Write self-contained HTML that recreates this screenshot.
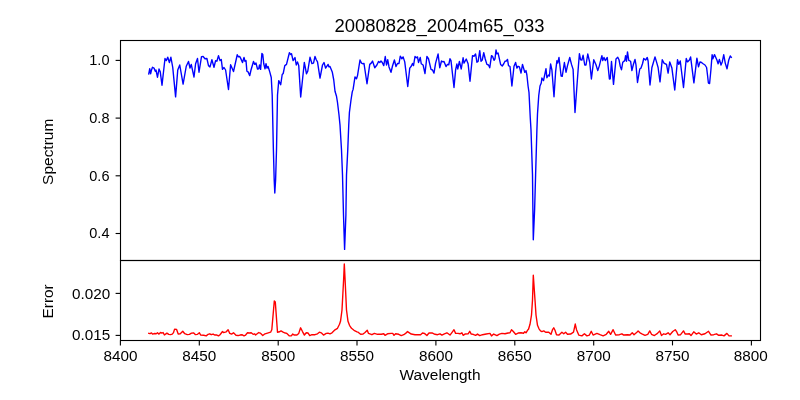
<!DOCTYPE html>
<html><head><meta charset="utf-8"><title>20080828_2004m65_033</title>
<style>html,body{margin:0;padding:0;background:#fff;overflow:hidden}svg{display:block;will-change:transform}</style>
</head><body>
<svg width="800" height="400" viewBox="0 0 800 400">
<rect width="800" height="400" fill="#fff"/>
<path d="M148.75,74.00 L149.75,68.75 L150.60,73.75 L151.50,70.00 L152.50,67.25 L154.00,68.10 L155.25,71.25 L156.00,70.00 L157.50,77.25 L159.00,69.00 L160.25,71.90 L162.00,85.20 L165.00,58.50 L166.25,60.60 L167.75,57.25 L169.40,62.50 L170.90,57.25 L172.75,67.50 L175.60,96.90 L177.75,70.00 L179.75,65.00 L183.10,84.10 L186.25,66.25 L188.50,61.50 L190.00,68.00 L191.25,64.40 L194.00,77.00 L195.60,63.75 L197.50,58.50 L199.00,72.25 L201.50,56.60 L203.10,56.50 L205.00,58.75 L206.90,58.50 L208.50,65.60 L210.00,66.90 L211.90,59.75 L214.00,67.25 L215.60,60.60 L216.90,61.25 L218.50,55.60 L220.00,60.60 L221.25,59.40 L222.50,69.40 L224.00,67.50 L225.60,70.00 L228.50,89.50 L230.60,64.75 L233.50,71.50 L237.25,54.75 L238.50,56.90 L239.75,56.50 L240.60,58.10 L242.50,62.50 L244.00,57.50 L245.00,61.25 L246.00,60.60 L246.90,71.25 L248.10,71.90 L249.75,75.60 L251.00,70.00 L253.50,61.50 L254.75,64.40 L256.00,63.10 L257.50,69.00 L258.75,68.75 L259.50,65.00 L260.60,69.40 L261.90,53.50 L262.75,54.40 L263.75,63.75 L265.00,68.75 L266.00,63.75 L267.00,68.10 L268.10,66.50 L269.75,71.90 L271.25,77.50 L272.20,95.00 L273.40,150.00 L274.20,180.00 L274.80,193.00 L275.60,180.00 L276.50,150.00 L277.50,95.00 L278.75,80.60 L280.70,84.75 L282.20,74.50 L283.20,73.50 L284.80,65.60 L286.50,64.40 L289.40,52.75 L290.60,54.40 L291.50,53.75 L293.10,60.60 L295.00,57.50 L296.25,65.00 L297.50,61.90 L298.75,65.60 L300.70,97.00 L304.30,62.50 L306.50,73.75 L307.75,71.25 L310.00,57.25 L311.90,63.50 L313.50,63.10 L315.00,56.50 L316.25,59.75 L317.50,61.90 L320.00,78.10 L322.50,65.00 L324.00,62.50 L325.60,68.10 L328.10,64.40 L329.00,66.90 L330.00,66.50 L332.25,71.90 L333.75,80.00 L335.00,91.25 L336.50,96.25 L337.50,102.50 L339.00,115.00 L340.00,125.00 L341.50,150.00 L342.50,175.00 L343.50,215.00 L344.60,249.40 L345.90,215.00 L346.50,175.00 L347.75,150.00 L348.75,125.00 L349.40,112.50 L351.00,100.00 L352.25,91.90 L353.10,89.40 L355.00,76.90 L356.50,78.75 L357.50,75.60 L360.00,60.00 L361.50,63.10 L362.75,63.75 L364.00,63.50 L367.00,83.70 L369.75,64.40 L371.25,63.10 L372.50,61.00 L374.75,67.75 L376.90,65.00 L378.50,61.50 L379.75,62.50 L381.00,61.00 L382.25,62.50 L383.75,65.60 L385.25,56.50 L386.50,65.00 L387.75,59.75 L389.00,66.90 L391.00,72.25 L392.50,66.00 L394.40,60.00 L396.00,66.50 L397.50,63.50 L399.00,63.50 L400.25,56.25 L401.90,58.75 L403.10,56.90 L404.75,61.90 L407.75,86.50 L409.75,68.10 L411.25,66.25 L412.50,63.50 L413.50,65.60 L415.00,56.50 L416.25,57.75 L417.50,56.90 L418.50,62.50 L420.25,57.50 L421.25,63.75 L423.10,65.00 L425.00,73.50 L426.90,56.50 L428.50,58.75 L431.00,69.40 L432.50,70.00 L434.00,73.10 L435.60,63.10 L438.10,54.00 L439.75,67.75 L441.50,61.00 L443.10,61.90 L444.00,61.50 L446.00,66.50 L447.50,64.40 L448.75,64.75 L450.00,58.75 L451.00,60.60 L454.00,87.50 L455.60,70.00 L456.90,64.00 L457.75,69.00 L459.40,61.50 L461.25,69.00 L463.10,57.75 L464.00,63.10 L466.25,59.00 L468.10,63.75 L470.00,81.30 L472.50,55.60 L474.00,56.25 L475.60,54.00 L476.90,62.25 L478.10,61.50 L479.75,50.60 L481.00,61.25 L482.25,60.00 L483.75,52.75 L485.25,59.00 L486.90,64.40 L488.50,65.00 L489.75,67.75 L491.50,55.60 L492.50,56.25 L494.00,60.25 L495.00,58.75 L496.00,50.00 L496.90,53.75 L498.10,53.10 L500.60,64.40 L502.25,66.00 L503.75,63.75 L505.00,61.25 L506.25,61.00 L507.50,59.40 L508.50,65.60 L510.00,66.50 L511.90,86.00 L514.00,66.25 L515.60,62.50 L516.90,68.10 L518.10,66.25 L519.40,66.90 L521.00,73.10 L522.50,64.40 L524.75,72.25 L526.00,70.60 L526.90,75.00 L528.10,86.25 L529.00,92.50 L530.25,117.50 L531.00,130.00 L532.50,175.00 L532.90,210.00 L533.30,239.70 L534.60,210.00 L535.60,175.00 L536.90,130.00 L537.50,113.75 L538.75,95.50 L540.00,86.00 L541.25,83.00 L541.90,78.00 L543.50,80.60 L546.00,68.75 L546.90,77.75 L548.50,75.00 L549.40,76.00 L550.60,64.00 L551.90,70.00 L554.00,96.70 L555.60,71.90 L556.90,60.60 L557.75,63.10 L559.00,57.50 L561.10,76.00 L562.25,76.25 L564.40,62.50 L566.00,72.25 L567.50,65.60 L569.75,57.50 L571.50,64.40 L573.10,69.40 L575.00,112.50 L578.10,70.00 L579.40,53.75 L580.60,59.75 L581.90,60.00 L583.10,55.25 L584.75,65.00 L586.00,65.00 L587.75,54.00 L589.75,62.50 L591.40,79.00 L593.75,59.75 L596.00,64.75 L597.75,70.60 L599.40,65.60 L600.60,60.60 L601.90,55.60 L602.75,60.60 L604.00,57.50 L605.25,60.60 L607.25,57.50 L609.40,79.00 L610.25,78.75 L611.50,61.50 L613.50,84.40 L616.00,59.00 L617.75,57.25 L619.00,59.75 L620.25,66.25 L621.50,69.75 L622.75,62.25 L624.75,60.60 L625.60,55.60 L626.50,61.25 L627.50,51.90 L628.75,60.30 L630.60,61.25 L631.90,70.60 L633.50,64.00 L635.00,59.40 L636.00,65.00 L637.50,82.50 L639.75,69.00 L641.00,68.10 L642.50,63.75 L643.75,58.50 L645.60,60.00 L647.25,57.50 L648.10,61.00 L650.00,85.00 L651.90,67.50 L653.10,63.50 L655.00,56.90 L656.50,61.90 L658.10,67.50 L660.00,81.90 L662.25,59.75 L664.00,63.10 L665.00,63.75 L666.50,64.40 L668.10,73.10 L669.75,61.90 L671.90,68.10 L674.75,90.00 L677.50,59.75 L678.75,64.40 L680.25,61.00 L683.50,87.50 L686.25,58.50 L687.50,61.90 L689.40,60.00 L690.60,56.90 L693.90,82.80 L696.90,58.10 L698.50,66.90 L700.00,61.90 L701.50,62.50 L703.10,63.75 L705.00,65.00 L706.60,67.50 L707.50,75.00 L708.40,83.00 L709.60,83.50 L710.90,70.00 L712.10,54.70 L712.90,58.80 L714.50,54.60 L716.90,60.00 L718.10,63.75 L719.40,59.40 L721.00,65.00 L722.25,61.90 L723.75,54.75 L725.25,63.10 L727.00,68.75 L728.75,60.00 L730.25,56.00 L731.30,57.30" fill="none" stroke="#0000ff" stroke-width="1.39" stroke-linejoin="round" stroke-linecap="square"/>
<path d="M148.75,333.35 L150.00,333.70 L151.50,332.85 L152.50,334.10 L154.75,333.50 L156.25,333.70 L157.50,332.70 L158.75,334.10 L160.60,332.50 L161.90,333.10 L163.10,332.50 L164.40,335.00 L166.90,333.10 L168.75,334.35 L170.60,334.60 L172.25,334.10 L173.50,332.60 L174.60,329.10 L176.60,329.40 L178.20,334.00 L180.25,333.70 L182.75,331.20 L184.75,333.70 L187.25,334.60 L189.40,334.35 L191.50,333.10 L193.50,332.85 L195.25,334.60 L197.50,334.35 L199.40,332.70 L200.60,335.05 L203.75,335.30 L206.25,335.90 L208.10,334.30 L209.75,333.80 L211.25,334.70 L213.10,334.05 L215.00,335.05 L216.90,335.05 L218.50,335.90 L220.00,334.70 L222.50,331.55 L223.50,332.55 L226.25,331.80 L228.10,329.70 L229.75,333.40 L231.50,334.05 L233.50,332.80 L236.00,335.30 L238.10,335.55 L240.00,335.05 L241.90,334.70 L244.00,335.90 L245.60,335.05 L247.50,332.80 L249.40,333.05 L251.25,332.80 L253.10,334.30 L254.75,333.80 L255.60,335.05 L258.75,332.55 L260.25,333.05 L262.75,335.55 L265.00,333.80 L267.50,333.05 L270.60,332.20 L271.80,329.80 L274.30,301.00 L275.30,302.00 L277.50,332.20 L279.40,331.80 L281.00,330.90 L283.10,332.20 L285.25,333.05 L286.90,333.40 L289.40,335.90 L291.25,335.90 L292.75,334.05 L294.40,335.05 L296.90,335.05 L298.75,333.40 L300.60,327.80 L302.50,331.55 L304.40,335.05 L306.25,332.80 L308.10,333.05 L309.75,335.55 L311.90,334.70 L315.00,334.70 L317.50,333.80 L319.40,332.20 L321.25,332.80 L323.50,335.05 L326.25,333.40 L328.00,333.10 L330.00,333.80 L332.00,332.80 L335.00,329.80 L337.50,328.30 L339.50,324.30 L340.50,321.30 L342.00,310.00 L342.80,295.00 L343.60,280.00 L344.30,264.00 L345.10,280.00 L345.80,295.00 L346.50,310.00 L348.00,321.30 L349.50,325.30 L351.50,328.30 L354.00,330.30 L357.00,331.80 L358.10,332.20 L360.60,334.30 L363.10,334.05 L365.00,332.55 L367.25,330.30 L368.50,333.40 L371.90,334.70 L374.40,333.40 L377.50,334.30 L381.25,334.30 L383.75,333.80 L385.00,335.30 L387.50,333.80 L391.25,333.40 L392.75,333.40 L394.00,335.30 L395.60,333.80 L398.75,334.30 L401.25,335.55 L403.75,334.70 L405.60,333.40 L407.50,331.55 L409.40,332.80 L411.25,334.05 L415.00,334.70 L418.75,334.70 L420.60,334.70 L422.50,333.05 L424.40,333.40 L426.90,335.55 L429.00,333.05 L432.50,333.05 L435.00,334.30 L437.50,334.70 L440.00,333.80 L441.90,335.05 L444.40,333.80 L446.90,332.80 L450.00,335.05 L451.90,332.55 L454.00,329.70 L455.60,333.40 L458.10,333.40 L460.00,333.80 L461.90,332.80 L463.10,335.30 L465.00,334.05 L468.10,333.80 L469.75,331.30 L471.25,334.05 L473.10,334.30 L475.60,335.30 L477.50,334.05 L479.75,335.55 L482.50,334.70 L486.25,334.05 L490.00,333.40 L491.50,335.90 L493.75,334.05 L496.90,335.55 L499.40,334.05 L501.90,333.40 L505.00,333.80 L508.10,333.05 L510.00,332.80 L511.50,329.70 L513.10,331.30 L515.60,334.30 L518.10,333.05 L521.00,332.80 L523.50,333.30 L524.80,331.80 L526.00,332.80 L527.50,330.30 L528.50,329.30 L530.00,324.30 L531.50,315.00 L532.50,300.00 L533.30,275.30 L535.00,300.00 L536.00,315.00 L537.50,325.30 L539.00,328.80 L540.50,330.80 L541.90,331.55 L543.75,330.90 L545.60,332.20 L548.75,332.20 L551.00,334.30 L552.50,329.70 L553.75,327.80 L555.00,330.30 L556.50,334.70 L559.00,335.05 L561.90,332.20 L563.75,333.80 L565.60,332.20 L567.50,334.30 L570.60,334.05 L573.50,332.20 L575.25,324.05 L576.50,329.70 L578.75,335.05 L581.90,335.90 L584.40,333.80 L586.90,335.90 L589.40,335.05 L591.25,331.30 L593.10,335.05 L596.90,333.40 L600.00,334.70 L603.10,335.90 L606.25,334.30 L608.75,331.30 L610.60,334.30 L613.10,329.70 L615.60,335.05 L619.40,334.70 L621.90,333.80 L623.75,335.05 L627.50,334.70 L630.00,335.05 L632.25,332.80 L634.00,334.70 L636.90,332.20 L638.10,330.90 L640.00,332.80 L641.90,333.80 L645.00,335.30 L647.75,334.30 L649.75,330.90 L651.50,334.30 L654.40,335.55 L657.50,333.40 L659.75,330.90 L661.50,335.55 L663.75,333.80 L665.60,334.30 L668.10,332.80 L670.00,334.70 L672.75,331.55 L675.25,329.70 L676.90,332.20 L678.10,335.05 L680.60,334.70 L683.50,330.90 L685.25,334.05 L687.50,334.05 L689.40,333.80 L691.00,335.55 L693.75,331.80 L696.25,334.05 L698.75,332.80 L701.25,334.70 L705.00,333.80 L708.50,331.30 L711.00,335.05 L713.75,334.70 L716.50,333.80 L718.75,335.30 L721.90,335.05 L724.00,335.90 L726.90,333.40 L729.00,335.90 L731.25,335.90" fill="none" stroke="#ff0000" stroke-width="1.39" stroke-linejoin="round" stroke-linecap="square"/>
<g stroke="#000" stroke-width="1.11" fill="none" stroke-linecap="square" stroke-linejoin="miter">
<rect x="120.5" y="40.5" width="640" height="220"/>
<rect x="120.5" y="260.5" width="640" height="80"/>
</g>
<g stroke="#000" stroke-width="1.11">
<line x1="120.4" y1="340.5" x2="120.4" y2="345.4"/>
<line x1="199.3" y1="340.5" x2="199.3" y2="345.4"/>
<line x1="278.2" y1="340.5" x2="278.2" y2="345.4"/>
<line x1="357.0" y1="340.5" x2="357.0" y2="345.4"/>
<line x1="435.9" y1="340.5" x2="435.9" y2="345.4"/>
<line x1="514.8" y1="340.5" x2="514.8" y2="345.4"/>
<line x1="593.7" y1="340.5" x2="593.7" y2="345.4"/>
<line x1="672.5" y1="340.5" x2="672.5" y2="345.4"/>
<line x1="751.4" y1="340.5" x2="751.4" y2="345.4"/>
<line x1="115.6" y1="60.4" x2="120.5" y2="60.4"/>
<line x1="115.6" y1="118.1" x2="120.5" y2="118.1"/>
<line x1="115.6" y1="175.8" x2="120.5" y2="175.8"/>
<line x1="115.6" y1="233.5" x2="120.5" y2="233.5"/>
<line x1="115.6" y1="293.4" x2="120.5" y2="293.4"/>
<line x1="115.6" y1="335.4" x2="120.5" y2="335.4"/>
</g>
<g font-family="Liberation Sans, sans-serif" font-size="13.89" fill="#000">
<text x="120.4" y="361" text-anchor="middle" textLength="34" lengthAdjust="spacingAndGlyphs">8400</text>
<text x="199.3" y="361" text-anchor="middle" textLength="34" lengthAdjust="spacingAndGlyphs">8450</text>
<text x="278.2" y="361" text-anchor="middle" textLength="34" lengthAdjust="spacingAndGlyphs">8500</text>
<text x="357.0" y="361" text-anchor="middle" textLength="34" lengthAdjust="spacingAndGlyphs">8550</text>
<text x="435.9" y="361" text-anchor="middle" textLength="34" lengthAdjust="spacingAndGlyphs">8600</text>
<text x="514.8" y="361" text-anchor="middle" textLength="34" lengthAdjust="spacingAndGlyphs">8650</text>
<text x="593.7" y="361" text-anchor="middle" textLength="34" lengthAdjust="spacingAndGlyphs">8700</text>
<text x="672.5" y="361" text-anchor="middle" textLength="34" lengthAdjust="spacingAndGlyphs">8750</text>
<text x="750.6999999999999" y="361" text-anchor="middle" textLength="34" lengthAdjust="spacingAndGlyphs">8800</text>
<text x="109.5" y="65.4" text-anchor="end" textLength="20.2" lengthAdjust="spacingAndGlyphs">1.0</text>
<text x="109.5" y="123.1" text-anchor="end" textLength="20.2" lengthAdjust="spacingAndGlyphs">0.8</text>
<text x="109.5" y="180.8" text-anchor="end" textLength="20.2" lengthAdjust="spacingAndGlyphs">0.6</text>
<text x="109.5" y="237.5" text-anchor="end" textLength="20.2" lengthAdjust="spacingAndGlyphs">0.4</text>
<text x="110.2" y="299.4" text-anchor="end" textLength="38.2" lengthAdjust="spacingAndGlyphs">0.020</text>
<text x="110.2" y="340.4" text-anchor="end" textLength="38.2" lengthAdjust="spacingAndGlyphs">0.015</text>
<text x="440" y="379.6" text-anchor="middle" textLength="81" lengthAdjust="spacingAndGlyphs">Wavelength</text>
<text transform="translate(52.6,151.8) rotate(-90)" text-anchor="middle" textLength="66.2" lengthAdjust="spacingAndGlyphs">Spectrum</text>
<text transform="translate(52.8,301.4) rotate(-90)" text-anchor="middle" textLength="34.2" lengthAdjust="spacingAndGlyphs">Error</text>
</g>
<text font-family="Liberation Sans, sans-serif" font-size="18" x="439.6" y="32.1" text-anchor="middle" textLength="210" lengthAdjust="spacingAndGlyphs">20080828_2004m65_033</text>
</svg>
</body></html>
